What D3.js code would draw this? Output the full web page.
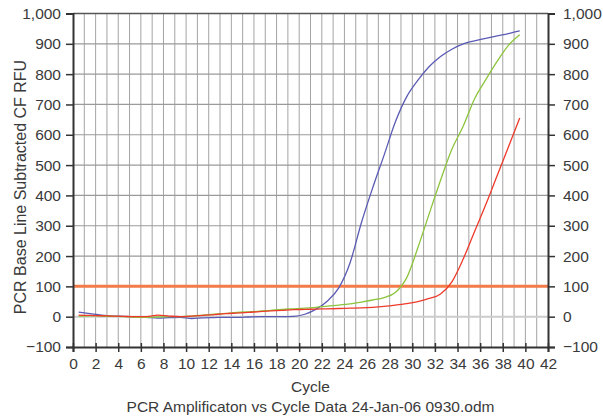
<!DOCTYPE html>
<html>
<head>
<meta charset="utf-8">
<script src="https://cdn.jsdelivr.net/npm/d3@7"></script>
<style>
  body { margin: 0; background: #fff; }
  text { font-family: "Liberation Sans", Arial, sans-serif; fill: #3a3a3a; }
</style>
</head>
<body>
<svg id="chart"></svg>
<script>
// cycle positions of the readings (plotted at mid-cycle)
var cycles = [0.5, 1.5, 2.5, 3.5, 4.5, 5.5, 6.5, 7.5, 8.5, 9.5,
  10.5, 11.5, 12.5, 13.5, 14.5, 15.5, 16.5, 17.5, 18.5, 19.5,
  20.5, 21.5, 22.5, 23.5, 24.5, 25.5, 26.5, 27.5, 28.5, 29.5,
  30.5, 31.5, 32.5, 33.5, 34.5, 35.5, 36.5, 37.5, 38.5, 39.5];

var blueRfu = [15, 10, 5, 2, 1, -1, -2, -5, -3, -2,
  -6, -4, -3, -2, -2, -1, 0, 0, 0, 1,
  8, 25, 52, 95, 178, 310, 425, 532, 642, 725,
  780, 825, 858, 882, 900, 910, 918, 926, 934, 943];

var greenRfu = [2, 3, 2, 1, 0, -2, -2, -1, 0, 0,
  2, 5, 8, 11, 14, 16, 18, 21, 24, 26,
  28, 31, 35, 38, 42, 48, 55, 63, 80, 128,
  228, 340, 450, 552, 628, 718, 782, 842, 895, 930];

var redRfu = [5, 4, 3, 2, 1, 0, 0, 5, 2, 0,
  2, 4, 7, 10, 12, 14, 17, 19, 21, 23,
  24, 25, 26, 27, 28, 29, 31, 34, 38, 43,
  50, 60, 75, 115, 190, 280, 370, 465, 560, 655];

var threshold = 100;

var xTicks = [0, 2, 4, 6, 8, 10, 12, 14, 16, 18, 20, 22, 24, 26, 28, 30, 32, 34, 36, 38, 40, 42];
var xGrid = [1, 2, 3, 4, 5, 6, 7, 8, 9, 10, 11, 12, 13, 14, 15, 16, 17, 18, 19, 20,
  21, 22, 23, 24, 25, 26, 27, 28, 29, 30, 31, 32, 33, 34, 35, 36, 37, 38, 39, 40, 41];
var yTicks = [-100, 0, 100, 200, 300, 400, 500, 600, 700, 800, 900, 1000];

var series = [
  {name: 'blue', values: blueRfu, color: '#5b5bb5'},
  {name: 'green', values: greenRfu, color: '#8cc43c'},
  {name: 'red', values: redRfu, color: '#ee3a2a'}
];

var width = 603, height = 417;
var margin = {top: 13.5, right: 55, bottom: 70, left: 73};
var fontSize = '15.5px';

var svg = d3.select('#chart')
    .attr('width', width)
    .attr('height', height);

var x = d3.scaleLinear().domain([0, 42]).range([margin.left, width - margin.right]);
var y = d3.scaleLinear().domain([-100, 1000]).range([height - margin.bottom, margin.top]);

// grid
svg.append('g')
  .selectAll('line')
  .data(xGrid)
  .enter().append('line')
    .attr('x1', function(d) { return x(d); })
    .attr('x2', function(d) { return x(d); })
    .attr('y1', y(1000))
    .attr('y2', y(-100))
    .style('stroke', '#a4a4a4')
    .style('stroke-width', 1);

svg.append('g')
  .selectAll('line')
  .data(yTicks.filter(function(d) { return d > -100 && d < 1000; }))
  .enter().append('line')
    .attr('x1', x(0))
    .attr('x2', x(42))
    .attr('y1', function(d) { return y(d); })
    .attr('y2', function(d) { return y(d); })
    .style('stroke', function(d) { return d === 0 ? '#cccccc' : '#9a9a9a'; })
    .style('stroke-width', function(d) { return d === 0 ? 2 : 1.2; });

// threshold
svg.append('line')
  .attr('x1', x(0))
  .attr('x2', x(42))
  .attr('y1', y(threshold))
  .attr('y2', y(threshold))
  .style('stroke', '#f47a4a')
  .style('stroke-width', 3);

// curves
var line = d3.line()
  .x(function(d, i) { return x(cycles[i]); })
  .y(function(d) { return y(d); })
  .curve(d3.curveMonotoneX);

svg.append('g')
  .selectAll('path')
  .data(series)
  .enter().append('path')
    .attr('d', function(d) { return line(d.values); })
    .style('fill', 'none')
    .style('stroke', function(d) { return d.color; })
    .style('stroke-width', 1.3);

// frame
svg.append('line')
  .attr('x1', x(0)).attr('x2', x(42))
  .attr('y1', y(1000)).attr('y2', y(1000))
  .style('stroke', '#555').style('stroke-width', 1.5);

var fmt = d3.format(',');

var left = d3.axisLeft(y).tickValues(yTicks).tickSize(7).tickPadding(5).tickFormat(fmt);
var right = d3.axisRight(y).tickValues(yTicks).tickSize(7).tickPadding(8).tickFormat(fmt);
var bottom = d3.axisBottom(x).tickValues(xTicks).tickSize(5).tickPadding(6).tickFormat(d3.format('d'));

function styleAxis(g) {
  g.select('.domain').style('stroke', '#333').style('stroke-width', 2);
  g.selectAll('.tick line').style('stroke', '#333').style('stroke-width', 1.5);
  g.selectAll('text').style('font-size', fontSize).style('fill', '#3a3a3a')
    .style('font-family', '"Liberation Sans", Arial, sans-serif');
}

svg.append('g')
  .attr('transform', 'translate(' + x(0) + ',0)')
  .call(left)
  .call(styleAxis);

svg.append('g')
  .attr('transform', 'translate(' + x(42) + ',0)')
  .call(right)
  .call(styleAxis);

svg.append('g')
  .attr('transform', 'translate(0,' + y(-100) + ')')
  .call(bottom)
  .call(styleAxis)
  .call(function(g) {
    g.selectAll('.tick line').attr('y1', -4);
  });

// labels
svg.append('text')
  .attr('x', (x(0) + x(42)) / 2)
  .attr('y', 392)
  .attr('text-anchor', 'middle')
  .style('font-size', fontSize)
  .text('Cycle');

svg.append('text')
  .attr('x', (x(0) + x(42)) / 2)
  .attr('y', 412)
  .attr('text-anchor', 'middle')
  .style('font-size', fontSize)
  .text('PCR Amplificaton vs Cycle Data 24-Jan-06 0930.odm');

svg.append('text')
  .attr('transform', 'translate(26,' + 187 + ') rotate(-90)')
  .attr('text-anchor', 'middle')
  .style('font-size', '16px')
  .text('PCR Base Line Subtracted CF RFU');
</script>
</body>
</html>
